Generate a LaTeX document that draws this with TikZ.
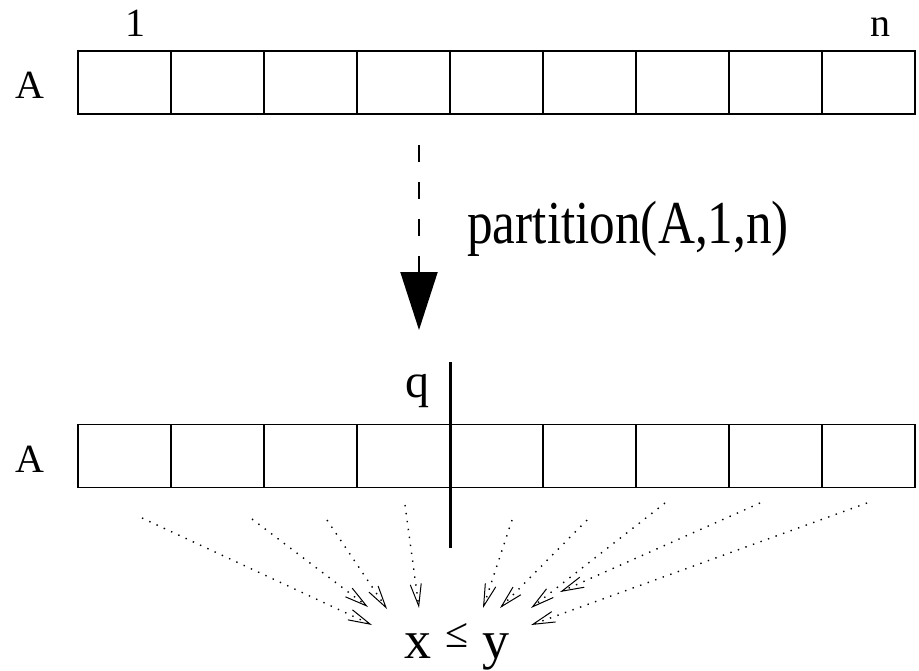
\documentclass[tikz,border=0pt]{standalone}
\usepackage{fontspec}
\setmainfont{Liberation Serif}
\usetikzlibrary{arrows.meta}

\tikzset{
  cell/.style={draw, line width=0.75pt, minimum width=46.5pt, minimum height=31.5pt, inner sep=0pt},
  lbl/.style={inner sep=0pt, anchor=base, font=\fontsize{20}{22}\selectfont},
  fan/.style={line width=0.7pt, dash pattern=on 0.7pt off 3.3pt,
    -{Straight Barb[length=11pt,width=5.5pt,line width=0.5pt]}},
}

\begin{document}
\begin{tikzpicture}[x=0.5pt, y=-0.5pt]
        \useasboundingbox (0,0) rectangle (919,670);
        % the two arrays
        \foreach \i in {1,...,9} {
            \node[cell] (t\i) at ({78+93*(\i-0.5)}, 82.5) {};
            \node[cell] (b\i) at ({78+93*(\i-0.5)}, 456) {};
        }
        \node[lbl] (atop) at (30,98) {A};
        \node[lbl] (abot) at (30,472) {A};
        \node[lbl] (first) at (135,36) {1};
        \node[lbl] (last) at (880,36) {n};
        % partition step
        \coordinate (dtop) at (419,145);
        \coordinate (dtip) at (419,330);
        \draw [line width=1pt, dash pattern=on 8.5pt off 10pt,
               -{Triangle[length=29pt,width=18.5pt]}] (dtop) -- (dtip);
        \node[inner sep=0pt, anchor=base west, xscale=0.84,
              font=\fontsize{30.5}{34}\selectfont] (call) at (467,243) {partition(A,1,n)};
        % pivot
        \coordinate (qtop) at (450,362);
        \coordinate (qbot) at (450,548);
        \draw [line width=1.5pt] (qtop) -- (qbot);
        \node[lbl, font=\fontsize{24}{28}\selectfont] (pivot) at (417,397) {q};
        % comparison
        \node[inner sep=0pt, anchor=base, font=\fontsize{27}{30}\selectfont] (cmp) at (457,658)
            {x {\fontsize{21}{22}\selectfont\raisebox{0.25em}{≤}} y};
        \foreach \sx/\sy/\ex/\ey [count=\k] in {142/518/372/625, 252/519/368/607,
            327/520/387/609, 405/505/419/608, 512/520/483/608, 587/520/500/608,
            665/503/531/608, 760/503/560/592, 867/503/531/625} {
            \coordinate (s\k) at (\sx,\sy);
            \coordinate (e\k) at (\ex,\ey);
            \draw [fan] (s\k) -- (e\k);
        }
\end{tikzpicture}
\end{document}
